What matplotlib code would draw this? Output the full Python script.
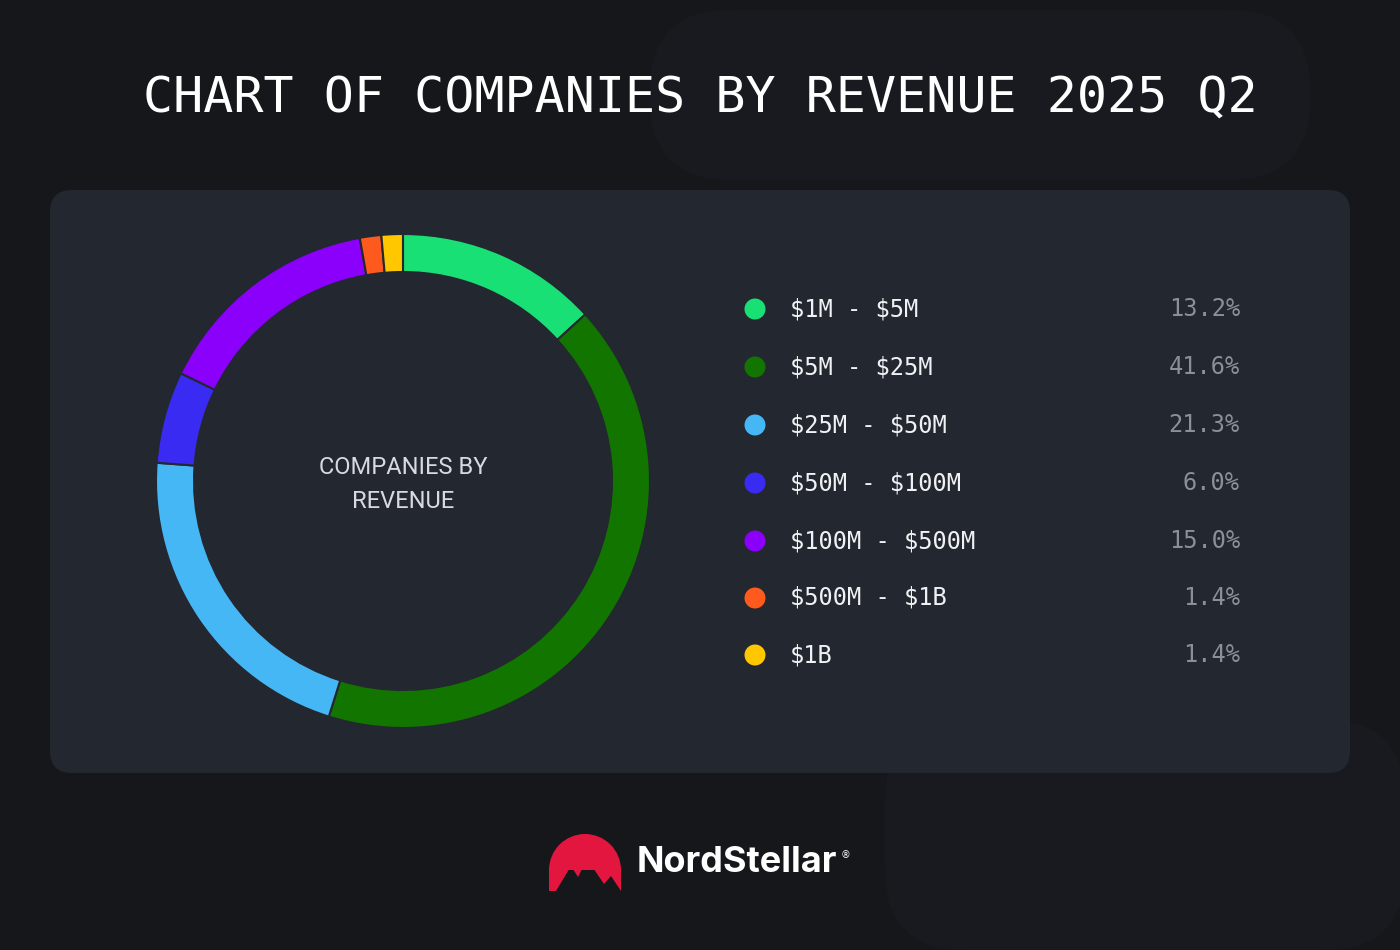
import matplotlib
matplotlib.use("Agg")
import matplotlib.pyplot as plt
from matplotlib.patches import FancyBboxPatch, Circle, Wedge, Polygon

categories = ["$1M - $5M", "$5M - $25M", "$25M - $50M", "$50M - $100M",
              "$100M - $500M", "$500M - $1B", "$1B"]
values = [13.2, 41.6, 21.3, 6.0, 15.0, 1.4, 1.4]
labels_pct = ["13.2%", "41.6%", "21.3%", "6.0%", "15.0%", "1.4%", "1.4%"]
colors = ["#19E074", "#127500", "#46B7F5", "#3A2BF2", "#8A00FA", "#FF5A1E", "#FFC700"]

W, H = 1400, 950
fig = plt.figure(figsize=(14, 9.5), dpi=100)
fig.patch.set_facecolor("#15171B")
ax = fig.add_axes([0, 0, 1, 1])
ax.set_xlim(0, W); ax.set_ylim(0, H); ax.axis("off")

def Y(y): return H - y

# faint background shapes
ax.add_patch(FancyBboxPatch((650, Y(180)), 660, 170, boxstyle="round,pad=0,rounding_size=80",
                            fc="#181A1F", ec="none", zorder=0))
ax.add_patch(FancyBboxPatch((885, Y(950)), 520, 230, boxstyle="round,pad=0,rounding_size=80",
                            fc="#181A1F", ec="none", zorder=0))

ax.text(700, Y(98), "CHART OF COMPANIES BY REVENUE 2025 Q2", color="white",
        fontsize=36, family="DejaVu Sans Mono", ha="center", va="center", zorder=3)

# panel
ax.add_patch(FancyBboxPatch((50, Y(773)), 1300, 583, boxstyle="round,pad=0,rounding_size=22",
                            fc="#23272F", ec="none", zorder=1))

cx, cy, R = 403, Y(481), 247
ax.pie(values, colors=colors, startangle=90, counterclock=False, center=(cx, cy),
       radius=R, wedgeprops=dict(width=38, edgecolor="#23272F", linewidth=1.5),
       frame=True)
ax.set_xlim(0, W); ax.set_ylim(0, H); ax.set_aspect("equal"); ax.axis("off")

ax.text(cx, Y(467), "COMPANIES BY", color="#D8DAE0", fontsize=17, family="Roboto",
        ha="center", va="center")
ax.text(cx, Y(501), "REVENUE", color="#D8DAE0", fontsize=17, family="Roboto",
        ha="center", va="center")

ys = [309, 367, 425, 483, 541, 598, 655]
for cat, pct, c, y in zip(categories, labels_pct, colors, ys):
    ax.add_patch(Circle((755, Y(y)), 10.5, fc=c, ec="none", zorder=3))
    ax.text(790, Y(y), cat.replace("$", r"\$"), color="#F0F1F4", fontsize=17,
            family="DejaVu Sans Mono", ha="left", va="center", zorder=3)
    ax.text(1240, Y(y), pct, color="#8A8F99", fontsize=17, family="DejaVu Sans Mono",
            ha="right", va="center", zorder=3)

# logo
red = "#E3163F"
ax.add_patch(Wedge((585, Y(870)), 36, 0, 180, fc=red, ec="none", zorder=3))
ax.add_patch(Polygon([(549, Y(869)), (549, Y(891)), (556, Y(891)), (571, Y(866)),
                      (578, Y(877)), (587, Y(859)), (604, Y(884)), (611, Y(876)),
                      (621, Y(891)), (621, Y(869))], closed=True, fc=red, ec="none", zorder=3))
ax.text(637, Y(863), "NordStellar", color="white", fontsize=26, fontweight="bold",
        family="Inter", ha="left", va="center", zorder=3)
ax.text(841, Y(855), "®", color="white", fontsize=7, ha="left", va="center", zorder=3)

fig.savefig("out.png", dpi=100, facecolor=fig.get_facecolor())
